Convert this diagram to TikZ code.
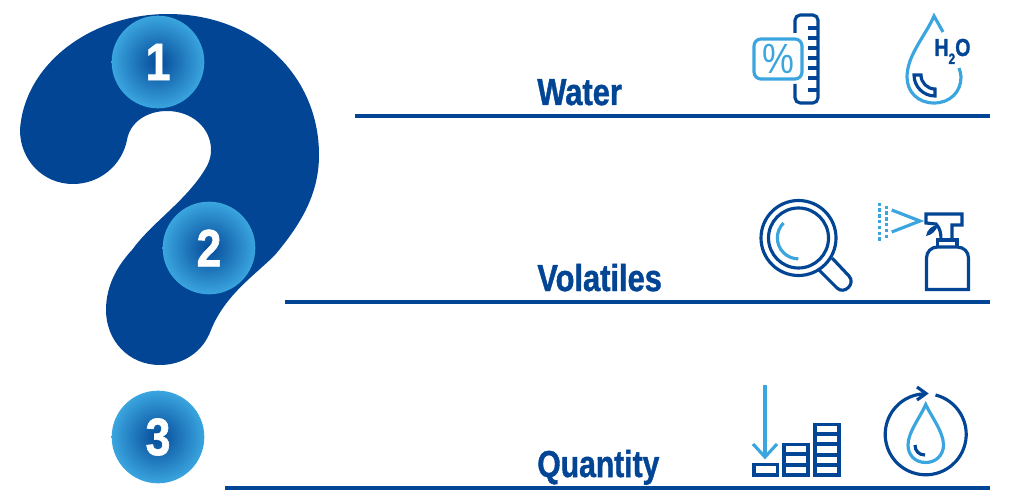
\documentclass[tikz,border=0pt]{standalone}
\usepackage{fontspec}
\setmainfont{Liberation Sans}[BoldFeatures={FakeBold=1.3}]
\usepackage{xcolor}
\usetikzlibrary{positioning, calc}
\definecolor{qm-dark}{HTML}{024594}
\definecolor{qm-light}{HTML}{3AA5DF}

\begin{document}
\begin{tikzpicture}[
    x=0.02cm, y=-0.02cm,
    rule/.style={line width=1.9pt, qm-dark},
    badge/.style={circle, minimum size=93*0.567pt, inner sep=0pt, shade, inner color=qm-dark!95!qm-light, outer color=qm-light, text=white, font=\fontsize{30}{30}\selectfont\bfseries},
    title/.style={anchor=base west, inner sep=0pt, text=qm-dark, font=\fontsize{21.4}{22}\selectfont\bfseries},
    darkline/.style={line width=1.8pt, qm-dark},
    lightline/.style={line width=1.8pt, qm-light}
]
    \useasboundingbox (0,0) rectangle (1010,500);

    % question mark
    \fill[qm-dark] (20,130)
        .. controls (24,65) and (90,14) .. (168,14)
        .. controls (255,14) and (319,75) .. (319,155)
        .. controls (319,195) and (300,225) .. (275,255)
        .. controls (255,275) and (225,295) .. (211,330)
        .. controls (203,352) and (183,365) .. (160,365)
        .. controls (128,365) and (106,340) .. (106,310)
        .. controls (106,285) and (118,265) .. (132,250)
        .. controls (150,225) and (180,205) .. (200,177)
        .. controls (207,167) and (211,160) .. (211,150)
        .. controls (211,128) and (192,111) .. (167,111)
        .. controls (147,111) and (130,122) .. (127,140)
        .. controls (122,165) and (100,184) .. (73,184)
        .. controls (43,184) and (20,160) .. (20,130) -- cycle;

    \node[badge] (n1) at (158,62) {\scalebox{0.85}[1]{1}};
    \node[badge] (n2) at (209,248) {\scalebox{0.85}[1]{2}};
    \node[badge] (n3) at (158,437) {\scalebox{0.85}[1]{3}};

    \node[title] (water) at (537,105) {\scalebox{0.82}[1]{Water}};
    \node[title] (volatiles) at (537,291) {\scalebox{0.82}[1]{Volatiles}};
    \node[title] (quantity) at (537,477) {\scalebox{0.8}[1]{Quantity}};

    \draw[rule] (355,116) -- (990,116);
    \draw[rule] (285,302) -- (990,302);
    \draw[rule] (225,488) -- (990,488);

    % ruler and percent
    \draw[darkline, rounded corners=3pt] (795,33) -- (795,15) -- (818,15) -- (818,103) -- (795,103) -- (795,84);
    \foreach \y in {28,38,48,58,68,78,90}
        \draw[darkline] (808,\y) -- (818,\y);
    \draw[lightline, rounded corners=4pt] (754,39) rectangle (802,79);
    \node[text=qm-light, font=\fontsize{24}{24}\selectfont] (pct) at (778,59) {\scalebox{0.85}[1]{\%}};

    % drop with H2O
    \draw[lightline] (943,32) -- (934,16)
        .. controls (926,35) and (907,55) .. (907,77)
        .. controls (907,92) and (918,103) .. (934,103)
        .. controls (950,103) and (961,92) .. (961,77)
        .. controls (961,74) and (960,71) .. (959,68);
    \draw[darkline] (914,75) arc[start angle=180, end angle=90, radius=21] -- (935,89) arc[start angle=90, end angle=180, radius=14] -- cycle;
    \node[anchor=base west, inner sep=0pt, text=qm-dark, font=\fontsize{14}{14}\selectfont\bfseries] (h2o) at (934,56) {\scalebox{0.8}[1]{H\raisebox{-4.5pt}{\fontsize{8.5}{8.5}\selectfont 2}O}};

    % magnifier
    \draw[darkline] (798.5,238) circle[radius=37.5];
    \draw[darkline] (798.5,238) circle[radius=30];
    \draw[lightline] (783.5,223) arc[start angle=225, end angle=90, radius=21];
    \draw[darkline] (832,258) -- (849,276) .. controls (856,284) and (844,295) .. (837,288) -- (819,270);

    % spray bottle
    \foreach \k in {0,...,6}
        \fill[qm-light] (877.5,{202.5+5.8*\k}) rectangle +(3.4,3.4);
    \foreach \k in {0,...,5}
        \fill[qm-light] (884.5,{205.5+5.8*\k}) rectangle +(3.4,3.4);
    \draw[lightline] (891.7,210) -- (920,221) -- (891.7,232);
    \draw[darkline] (926,214) -- (962,214) -- (962,225) -- (952,225) -- (952,240) -- (941,240) .. controls (941,233) and (940,228) .. (936,224) -- (926,223) -- cycle;
    \fill[qm-dark] (926,236) .. controls (927,229) and (933,225) .. (938,225) .. controls (936,231) and (932,235) .. (926,236) -- cycle;
    \draw[darkline] (937.5,247) -- (937.5,240) -- (957,240) -- (957,247);
    \draw[darkline] (926.5,289.5) -- (926.5,258) .. controls (926.5,252) and (931,247) .. (937.5,247) -- (957,247) .. controls (964,247) and (968.5,252) .. (968.5,258) -- (968.5,289.5) -- cycle;

    % bars with arrow
    \draw[lightline] (765,385) -- (765,457);
    \draw[lightline] (753,444) -- (765,457) -- (777,444);
    \draw[darkline] (754,464.5) rectangle (777.5,475);
    \draw[darkline] (784,444.5) rectangle (808,475);
    \draw[darkline] (815,424.5) rectangle (839,475);
    \foreach \y in {454,465}
        \draw[darkline] (784,\y) -- (808,\y);
    \foreach \y in {434,444,455,465}
        \draw[darkline] (815,\y) -- (839,\y);

    % circled drop
    \draw[darkline] (935.5,395) arc[start angle=-76, end angle=270, radius=40.5];
    \draw[darkline] (917,387) -- (926,393.5) -- (917,400);
    \draw[lightline] (925.7,404.5)
        .. controls (921,416) and (908,432) .. (908,445)
        .. controls (908,455) and (915,462.5) .. (925.7,462.5)
        .. controls (936,462.5) and (943.5,455) .. (943.5,445)
        .. controls (943.5,432) and (931,416) .. (925.7,404.5) -- cycle;
    \draw[darkline] (915,445) .. controls (915,451) and (919,455) .. (925,455);
\end{tikzpicture}
\end{document}
